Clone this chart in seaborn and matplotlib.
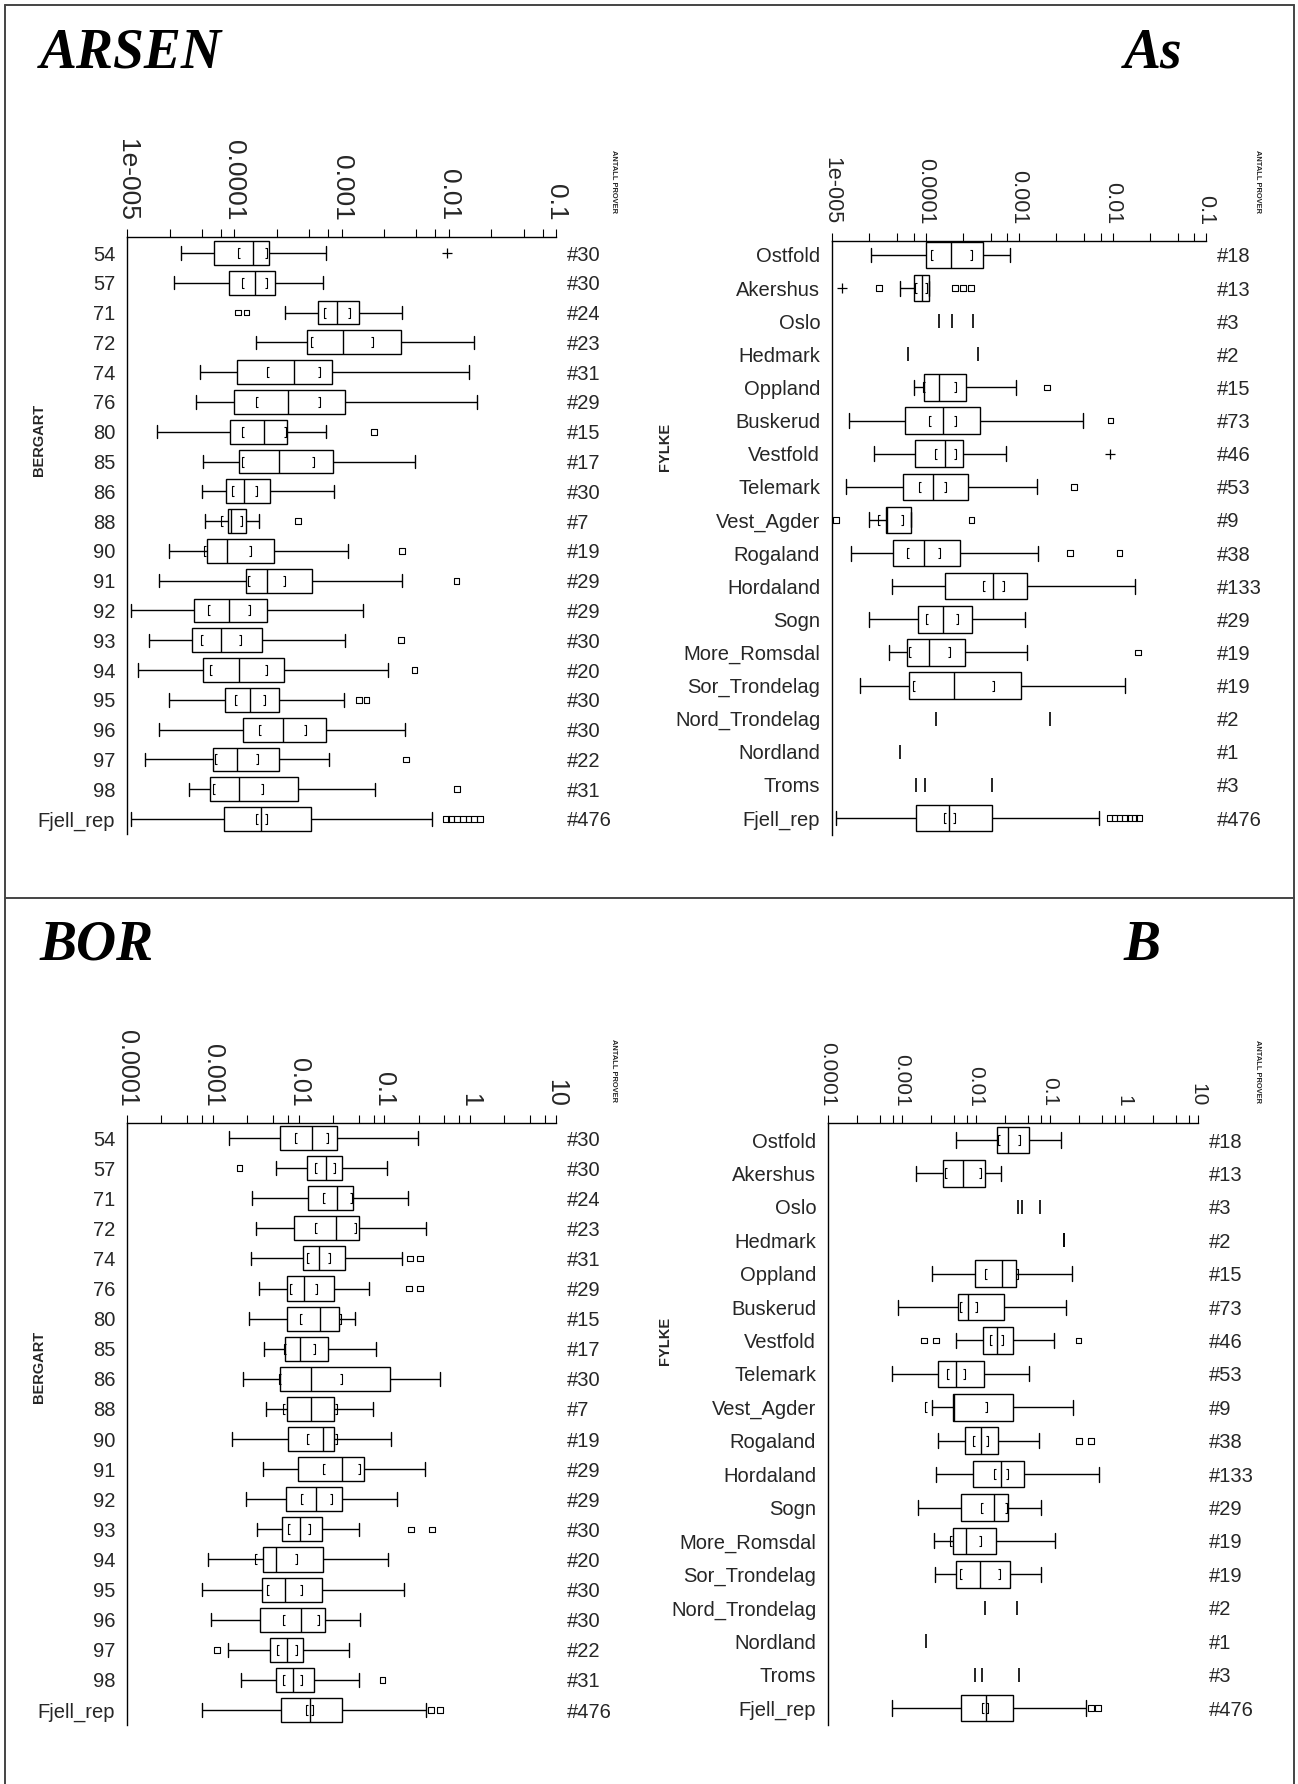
import numpy as np
import pandas as pd
import matplotlib
matplotlib.use("Agg")
import matplotlib.pyplot as plt
from matplotlib.path import Path
from matplotlib.lines import Line2D
from matplotlib.ticker import NullFormatter
import seaborn as sns

# ------------------------------------------------------------------
# Groups and sample counts
# ------------------------------------------------------------------
rock_types = ["54", "57", "71", "72", "74", "76", "80", "85", "86", "88",
              "90", "91", "92", "93", "94", "95", "96", "97", "98", "Fjell_rep"]
rock_counts = [30, 30, 24, 23, 31, 29, 15, 17, 30, 7,
               19, 29, 29, 30, 20, 30, 30, 22, 31, 476]

counties = ["Ostfold", "Akershus", "Oslo", "Hedmark", "Oppland", "Buskerud",
            "Vestfold", "Telemark", "Vest_Agder", "Rogaland", "Hordaland", "Sogn",
            "More_Romsdal", "Sor_Trondelag", "Nord_Trondelag", "Nordland", "Troms",
            "Fjell_rep"]
county_counts = [18, 13, 3, 2, 15, 73, 46, 53, 9, 38, 133, 29, 19, 19, 2, 1, 3, 476]

# ------------------------------------------------------------------
# Arsenic (As) by rock type: whisker ends, quartiles, median, median CI
# ------------------------------------------------------------------
as_rock_lo = [3.2e-5, 2.75e-5, 3.0e-4, 1.58e-4, 4.8e-5, 4.4e-5, 1.89e-5, 5.1e-5, 5.05e-5, 5.3e-5,
              2.49e-5, 1.99e-5, 1.10e-5, 1.61e-5, 1.28e-5, 2.49e-5, 1.99e-5, 1.48e-5, 3.8e-5, 1.10e-5]
as_rock_q1 = [6.5e-5, 8.9e-5, 6.1e-4, 4.8e-4, 1.07e-4, 1.0e-4, 9.2e-5, 1.10e-4, 8.3e-5, 8.7e-5,
              5.6e-5, 1.30e-4, 4.2e-5, 4.0e-5, 5.1e-5, 8.2e-5, 1.20e-4, 6.4e-5, 5.9e-5, 8.0e-5]
as_rock_med = [1.49e-4, 1.56e-4, 9.1e-4, 1.03e-3, 3.6e-4, 3.2e-4, 1.91e-4, 2.6e-4, 1.24e-4, 9.4e-5,
               8.6e-5, 2.0e-4, 8.9e-5, 7.55e-5, 1.10e-4, 1.40e-4, 2.86e-4, 1.05e-4, 1.10e-4, 1.78e-4]
as_rock_q3 = [2.09e-4, 2.39e-4, 1.46e-3, 3.56e-3, 8.1e-4, 1.07e-3, 3.13e-4, 8.3e-4, 2.17e-4, 1.29e-4,
              2.37e-4, 5.3e-4, 2.0e-4, 1.80e-4, 2.88e-4, 2.6e-4, 7.1e-4, 2.6e-4, 3.94e-4, 5.2e-4]
as_rock_hi = [7.2e-4, 6.7e-4, 3.7e-3, 1.72e-2, 1.56e-2, 1.85e-2, 7.1e-4, 4.8e-3, 8.6e-4, 1.69e-4,
              1.15e-3, 3.66e-3, 1.59e-3, 1.07e-3, 2.70e-3, 1.05e-3, 3.93e-3, 7.6e-4, 2.05e-3, 7.0e-3]
as_rock_ci_lo = [1.09e-4, 1.17e-4, 6.9e-4, 5.25e-4, 2.04e-4, 1.6e-4, 1.17e-4, 1.19e-4, 9.45e-5, 7.5e-5,
                 5.2e-5, 1.35e-4, 5.7e-5, 4.9e-5, 6.0e-5, 1.01e-4, 1.70e-4, 6.6e-5, 6.4e-5, 1.61e-4]
as_rock_ci_hi = [2.0e-4, 2.02e-4, 1.2e-3, 1.95e-3, 6.3e-4, 6.3e-4, 3.07e-4, 5.6e-4, 1.64e-4, 1.17e-4,
                 1.44e-4, 2.99e-4, 1.40e-4, 1.15e-4, 2.02e-4, 1.93e-4, 4.7e-4, 1.66e-4, 1.85e-4, 2.0e-4]
as_rock_outside = {"71": [1.09e-4, 1.30e-4], "80": [2.01e-3], "88": [3.9e-4], "90": [3.66e-3],
                   "91": [1.18e-2], "93": [3.56e-3], "94": [4.8e-3], "95": [1.46e-3, 1.71e-3],
                   "97": [4.0e-3], "98": [1.20e-2],
                   "Fjell_rep": [9.4e-3, 1.05e-2, 1.19e-2, 1.35e-2, 1.53e-2, 1.73e-2, 1.95e-2]}
as_rock_far = {"54": [9.6e-3]}
as_rock_single = {}

# ------------------------------------------------------------------
# Arsenic (As) by county
# ------------------------------------------------------------------
as_cty_lo = [2.59e-5, 5.35e-5, None, None, 7.5e-5, 1.52e-5, 2.8e-5, 1.40e-5, 2.51e-5, 1.6e-5,
             4.4e-5, 2.51e-5, 4.1e-5, 2.0e-5, None, None, None, 1.10e-5]
as_cty_q1 = [1.01e-4, 7.6e-5, None, None, 9.7e-5, 6.0e-5, 7.7e-5, 5.8e-5, 3.78e-5, 4.5e-5,
             1.6e-4, 8.4e-5, 6.4e-5, 6.7e-5, None, None, None, 7.95e-5]
as_cty_med = [1.88e-4, 9.1e-5, None, None, 1.40e-4, 1.52e-4, 1.63e-4, 1.21e-4, 3.9e-5, 9.6e-5,
              5.3e-4, 1.52e-4, 1.10e-4, 2.02e-4, None, None, None, 1.80e-4]
as_cty_q3 = [4.17e-4, 1.10e-4, None, None, 2.72e-4, 3.8e-4, 2.5e-4, 2.88e-4, 7.05e-5, 2.33e-4,
             1.21e-3, 3.13e-4, 2.66e-4, 1.06e-3, None, None, None, 5.2e-4]
as_cty_hi = [8.0e-4, 1.10e-4, None, None, 9.4e-4, 4.8e-3, 7.3e-4, 1.57e-3, 7.05e-5, 1.61e-3,
             1.72e-2, 1.17e-3, 1.22e-3, 1.36e-2, None, None, None, 7.1e-3]
as_cty_ci_lo = [1.14e-4, 7.8e-5, None, None, 9.3e-5, 1.08e-4, 1.27e-4, 8.55e-5, 3.1e-5, 6.3e-5,
                4.1e-4, 1.02e-4, 6.7e-5, 7.4e-5, None, None, None, 1.56e-4]
as_cty_ci_hi = [3.16e-4, 1.03e-4, None, None, 2.1e-4, 2.12e-4, 2.1e-4, 1.66e-4, 5.8e-5, 1.43e-4,
                6.95e-4, 2.2e-4, 1.84e-4, 5.4e-4, None, None, None, 2.06e-4]
as_cty_outside = {"Akershus": [3.18e-5, 2.06e-4, 2.5e-4, 3.07e-4], "Oppland": [2.0e-3],
                  "Buskerud": [9.5e-3], "Telemark": [3.9e-3], "Vest_Agder": [1.10e-5, 3.1e-4],
                  "Rogaland": [3.53e-3, 1.19e-2], "More_Romsdal": [1.87e-2],
                  "Fjell_rep": [9.3e-3, 1.05e-2, 1.19e-2, 1.35e-2, 1.52e-2, 1.72e-2, 1.91e-2]}
as_cty_far = {"Akershus": [1.29e-5], "Vestfold": [9.5e-3]}
as_cty_single = {"Oslo": [1.38e-4, 1.90e-4, 3.2e-4], "Hedmark": [6.5e-5, 3.6e-4],
                 "Nord_Trondelag": [1.30e-4, 2.14e-3], "Nordland": [5.35e-5],
                 "Troms": [7.95e-5, 9.8e-5, 5.1e-4]}

# ------------------------------------------------------------------
# Boron (B) by rock type
# ------------------------------------------------------------------
b_rock_lo = [1.55e-3, 5.4e-3, 2.89e-3, 3.16e-3, 2.82e-3, 3.46e-3, 2.61e-3, 4.0e-3, 2.24e-3, 4.14e-3,
             1.67e-3, 3.87e-3, 2.47e-3, 3.27e-3, 8.9e-4, 7.4e-4, 9.5e-4, 1.51e-3, 2.11e-3, 7.4e-4]
b_rock_q1 = [6.05e-3, 1.26e-2, 1.29e-2, 8.85e-3, 1.12e-2, 7.3e-3, 7.4e-3, 7.0e-3, 6.05e-3, 7.4e-3,
             7.5e-3, 9.8e-3, 7.1e-3, 6.4e-3, 3.83e-3, 3.7e-3, 3.57e-3, 4.62e-3, 5.4e-3, 6.3e-3]
b_rock_med = [1.43e-2, 2.07e-2, 2.83e-2, 2.7e-2, 1.71e-2, 1.16e-2, 1.77e-2, 1.04e-2, 1.38e-2, 1.38e-2,
              1.91e-2, 3.24e-2, 1.6e-2, 1.04e-2, 5.47e-3, 6.9e-3, 1.07e-2, 7.4e-3, 8.55e-3, 1.34e-2]
b_rock_q3 = [2.8e-2, 3.24e-2, 4.33e-2, 5.06e-2, 3.46e-2, 2.59e-2, 2.99e-2, 2.19e-2, 0.117, 2.59e-2,
             2.56e-2, 5.85e-2, 3.2e-2, 1.89e-2, 1.95e-2, 1.85e-2, 2.02e-2, 1.12e-2, 1.53e-2, 3.2e-2]
b_rock_hi = [0.244, 0.108, 0.187, 0.305, 0.162, 6.7e-2, 4.52e-2, 7.9e-2, 0.447, 7.3e-2,
             0.12, 0.299, 0.141, 5.06e-2, 0.111, 0.167, 5.2e-2, 3.83e-2, 5.06e-2, 0.305]
b_rock_ci_lo = [9.2e-3, 1.56e-2, 1.95e-2, 1.55e-2, 1.26e-2, 7.9e-3, 1.04e-2, 6.76e-3, 5.9e-3, 6.6e-3,
                1.25e-2, 1.95e-2, 1.06e-2, 7.57e-3, 3.09e-3, 4.33e-3, 6.6e-3, 5.53e-3, 6.5e-3, 1.22e-2]
b_rock_ci_hi = [2.19e-2, 2.67e-2, 4.18e-2, 4.68e-2, 2.34e-2, 1.65e-2, 3.09e-2, 1.56e-2, 3.24e-2, 2.83e-2,
                2.83e-2, 5.2e-2, 2.44e-2, 1.37e-2, 9.57e-3, 1.09e-2, 1.75e-2, 9.46e-3, 1.11e-2, 1.46e-2]
b_rock_outside = {"57": [2.05e-3], "74": [0.2, 0.259], "76": [0.193, 0.259], "93": [0.205, 0.357],
                  "97": [1.11e-3], "98": [9.5e-2], "Fjell_rep": [0.35, 0.447]}
b_rock_far = {}
b_rock_single = {}

# ------------------------------------------------------------------
# Boron (B) by county
# ------------------------------------------------------------------
b_cty_lo = [5.35e-3, 1.53e-3, None, None, 2.57e-3, 8.9e-4, 5.35e-3, 7.36e-4, 2.57e-3, 3.11e-3,
            2.88e-3, 1.64e-3, 2.74e-3, 2.77e-3, None, None, None, 7.36e-4]
b_cty_q1 = [1.91e-2, 3.63e-3, None, None, 9.55e-3, 5.64e-3, 1.25e-2, 3.11e-3, 4.82e-3, 7.2e-3,
            9.2e-3, 6.24e-3, 4.89e-3, 5.35e-3, None, None, None, 6.24e-3]
b_cty_med = [2.74e-2, 6.65e-3, None, None, 2.26e-2, 7.87e-3, 1.91e-2, 5.35e-3, 5.08e-3, 1.16e-2,
             2.18e-2, 1.77e-2, 7.4e-3, 1.14e-2, None, None, None, 1.37e-2]
b_cty_q3 = [5.16e-2, 1.32e-2, None, None, 3.51e-2, 2.42e-2, 3.2e-2, 1.27e-2, 3.16e-2, 1.96e-2,
            4.48e-2, 2.74e-2, 1.89e-2, 2.85e-2, None, None, None, 3.16e-2]
b_cty_hi = [0.143, 2.18e-2, None, None, 0.2, 0.167, 0.113, 5.2e-2, 0.202, 7.2e-2,
            0.455, 7.6e-2, 0.117, 7.6e-2, None, None, None, 0.309]
b_cty_ci_lo = [2.01e-2, 3.87e-3, None, None, 1.33e-2, 6.17e-3, 1.56e-2, 4.08e-3, 2.04e-3, 9.06e-3,
               1.77e-2, 1.16e-2, 4.4e-3, 6.17e-3, None, None, None, 1.22e-2]
b_cty_ci_hi = [3.93e-2, 1.17e-2, None, None, 3.69e-2, 1.02e-2, 2.32e-2, 7.2e-3, 1.41e-2, 1.46e-2,
               2.67e-2, 2.64e-2, 1.16e-2, 2.09e-2, None, None, None, 1.46e-2]
b_cty_outside = {"Vestfold": [1.99e-3, 2.85e-3, 0.242], "Rogaland": [0.248, 0.356],
                 "Fjell_rep": [0.356, 0.443]}
b_cty_far = {}
b_cty_single = {"Oslo": [3.65e-2, 4.2e-2, 7.4e-2], "Hedmark": [0.154, 0.154],
                "Nord_Trondelag": [1.33e-2, 3.55e-2], "Nordland": [2.09e-3],
                "Troms": [9.8e-3, 1.2e-2, 3.78e-2]}

# Axis tick labels
as_ticks = [1e-5, 1e-4, 1e-3, 1e-2, 1e-1]
as_tick_labels = ["1e-005", "0.0001", "0.001", "0.01", "0.1"]
b_ticks = [1e-4, 1e-3, 1e-2, 1e-1, 1, 10]
b_tick_labels = ["0.0001", "0.001", "0.01", "0.1", "1", "10"]

# ------------------------------------------------------------------
# Styling
# ------------------------------------------------------------------
sns.set_theme(style="white")
SANS = ["Liberation Sans Narrow", "Liberation Sans", "DejaVu Sans"]
SERIF = ["Liberation Serif", "DejaVu Serif"]
plt.rcParams["font.family"] = SANS
plt.rcParams["axes.edgecolor"] = "black"

W, H = 1298, 1784
fig = plt.figure(figsize=(W / 100, H / 100), dpi=100)
fig.patch.set_facecolor("white")

OPEN_BR = Path([(0.4, -1), (0, -1), (0, 1), (0.4, 1)],
               [Path.MOVETO, Path.LINETO, Path.LINETO, Path.LINETO])
CLOSE_BR = Path([(-0.4, -1), (0, -1), (0, 1), (-0.4, 1)],
                [Path.MOVETO, Path.LINETO, Path.LINETO, Path.LINETO])


def panel(box_px, rows_px, groups, counts, lo, q1, med, q3, hi, ci_lo, ci_hi,
          outside, far, single, xlim, ticks, tick_labels, tick_fs):
    x0, x1, top, bottom = box_px
    r0, rn = rows_px
    n = len(groups)
    step = (rn - r0) / (n - 1)
    ax = fig.add_axes([x0 / W, 1 - bottom / H, (x1 - x0) / W, (bottom - top) / H])

    recs = []
    for g, a, b, c, d, e in zip(groups, lo, q1, med, q3, hi):
        if a is None:
            continue
        for v in (a, b, c, d, e):
            recs.append((g, v))
    df = pd.DataFrame(recs, columns=["group", "value"])

    sns.boxplot(data=df, x="value", y="group", order=groups, orient="y",
                log_scale=True, whis=(0, 100), width=0.8, color="white",
                linecolor="black", linewidth=1.0, fliersize=0, capwidths=0.45,
                ax=ax)

    pos = {g: i for i, g in enumerate(groups)}

    # median confidence brackets
    bx_lo = [v for v in ci_lo if v is not None]
    by_lo = [pos[g] for g, v in zip(groups, ci_lo) if v is not None]
    bx_hi = [v for v in ci_hi if v is not None]
    by_hi = [pos[g] for g, v in zip(groups, ci_hi) if v is not None]
    sns.scatterplot(x=bx_lo, y=by_lo, marker=OPEN_BR, s=52, color="black",
                    facecolor="none", edgecolor="black", linewidth=0.8,
                    legend=False, ax=ax, zorder=5)
    sns.scatterplot(x=bx_hi, y=by_hi, marker=CLOSE_BR, s=52, color="black",
                    facecolor="none", edgecolor="black", linewidth=0.8,
                    legend=False, ax=ax, zorder=5)

    # outside values
    ox = [v for g in outside for v in outside[g]]
    oy = [pos[g] for g in outside for v in outside[g]]
    if ox:
        sns.scatterplot(x=ox, y=oy, marker="s", s=17, color="black",
                        facecolor="none", edgecolor="black", linewidth=0.8,
                        legend=False, ax=ax, zorder=5)
    fx_ = [v for g in far for v in far[g]]
    fy_ = [pos[g] for g in far for v in far[g]]
    if fx_:
        sns.scatterplot(x=fx_, y=fy_, marker="+", s=60, color="black",
                        linewidth=0.9, legend=False, ax=ax, zorder=5)
    # groups with too few samples for a box
    sx = [v for g in single for v in single[g]]
    sy = [pos[g] for g in single for v in single[g]]
    if sx:
        sns.scatterplot(x=sx, y=sy, marker="|", s=100, color="black",
                        linewidth=1.2, legend=False, ax=ax, zorder=5)

    ax.set_xscale("log")
    ax.set_xlim(*xlim)
    ax.set_ylim((bottom - r0) / step, (top - r0) / step)
    ax.set_xlabel("")
    ax.set_ylabel("")
    ax.grid(False)

    ax.xaxis.tick_top()
    ax.set_xticks(ticks)
    ax.set_xticklabels(tick_labels, rotation=-90, fontsize=tick_fs)
    decades = np.arange(np.floor(np.log10(xlim[0])), np.ceil(np.log10(xlim[1])))
    minors = [m * 10.0 ** k for k in decades for m in (2.5, 5, 7.5)]
    ax.set_xticks(minors, minor=True)
    ax.xaxis.set_minor_formatter(NullFormatter())
    ax.tick_params(axis="x", which="both", top=True, bottom=False, labeltop=True,
                   labelbottom=False, length=5.8, width=0.8, direction="out",
                   pad=6, color="black")

    ax.set_yticks(range(n))
    ax.set_yticklabels(groups, fontsize=14.5)
    ax.tick_params(axis="y", length=0, pad=8.5)

    for s in ("right", "bottom"):
        ax.spines[s].set_visible(False)
    for s in ("top", "left"):
        ax.spines[s].set_visible(True)
        ax.spines[s].set_linewidth(1.0)
        ax.spines[s].set_color("black")

    ytr = ax.get_yaxis_transform()
    for i, c in enumerate(counts):
        ax.annotate(f"#{c}", xy=(1, i), xycoords=ytr, xytext=(8, 0),
                    textcoords="offset points", ha="left", va="center_baseline",
                    fontsize=14.5)
    return ax


panel((127, 556, 237, 834), (253, 819), rock_types, rock_counts,
      as_rock_lo, as_rock_q1, as_rock_med, as_rock_q3, as_rock_hi,
      as_rock_ci_lo, as_rock_ci_hi, as_rock_outside, as_rock_far, as_rock_single,
      (1e-5, 0.1), as_ticks, as_tick_labels, 19)
panel((832, 1206, 241, 835), (255, 818), counties, county_counts,
      as_cty_lo, as_cty_q1, as_cty_med, as_cty_q3, as_cty_hi,
      as_cty_ci_lo, as_cty_ci_hi, as_cty_outside, as_cty_far, as_cty_single,
      (1e-5, 0.1), as_ticks, as_tick_labels, 15.5)
panel((127, 556, 1123, 1725), (1138, 1710), rock_types, rock_counts,
      b_rock_lo, b_rock_q1, b_rock_med, b_rock_q3, b_rock_hi,
      b_rock_ci_lo, b_rock_ci_hi, b_rock_outside, b_rock_far, b_rock_single,
      (1e-4, 10), b_ticks, b_tick_labels, 18)
panel((828, 1198, 1123, 1725), (1140, 1708), counties, county_counts,
      b_cty_lo, b_cty_q1, b_cty_med, b_cty_q3, b_cty_hi,
      b_cty_ci_lo, b_cty_ci_hi, b_cty_outside, b_cty_far, b_cty_single,
      (1e-4, 10), b_ticks, b_tick_labels, 15)

# ------------------------------------------------------------------
# Titles, axis captions and frame
# ------------------------------------------------------------------
def fx(px):
    return px / W


def fy(py):
    return 1 - py / H


title_kw = dict(fontsize=40, fontweight="bold", style="italic", family=SERIF,
                ha="left", va="baseline", color="black")
fig.text(fx(40), fy(67), "ARSEN", **title_kw)
fig.text(fx(1124), fy(67), "As", **title_kw)
fig.text(fx(40), fy(960), "BOR", **title_kw)
fig.text(fx(1124), fy(960), "B", **title_kw)

cap_kw = dict(rotation=90, ha="center", va="center", fontsize=10.5, fontweight="bold")
fig.text(fx(39), fy(440), "BERGART", **cap_kw)
fig.text(fx(665), fy(447), "FYLKE", **cap_kw)
fig.text(fx(39), fy(1367), "BERGART", **cap_kw)
fig.text(fx(665), fy(1341), "FYLKE", **cap_kw)

ap_kw = dict(rotation=-90, ha="center", va="bottom", fontsize=5.4, fontweight="bold")
fig.text(fx(613), fy(213), "ANTALL PROVER", **ap_kw)
fig.text(fx(1258), fy(213), "ANTALL PROVER", **ap_kw)
fig.text(fx(613), fy(1102), "ANTALL PROVER", **ap_kw)
fig.text(fx(1257), fy(1103), "ANTALL PROVER", **ap_kw)

frame_kw = dict(color="#444444", linewidth=1.4, transform=fig.transFigure)
fig.add_artist(Line2D([fx(5), fx(1294)], [fy(5), fy(5)], **frame_kw))
fig.add_artist(Line2D([fx(5), fx(5)], [fy(5), fy(1784)], **frame_kw))
fig.add_artist(Line2D([fx(1294), fx(1294)], [fy(5), fy(1784)], **frame_kw))
fig.add_artist(Line2D([fx(5), fx(1294)], [fy(898), fy(898)], **frame_kw))

fig.savefig("out.png", dpi=100, facecolor="white")
